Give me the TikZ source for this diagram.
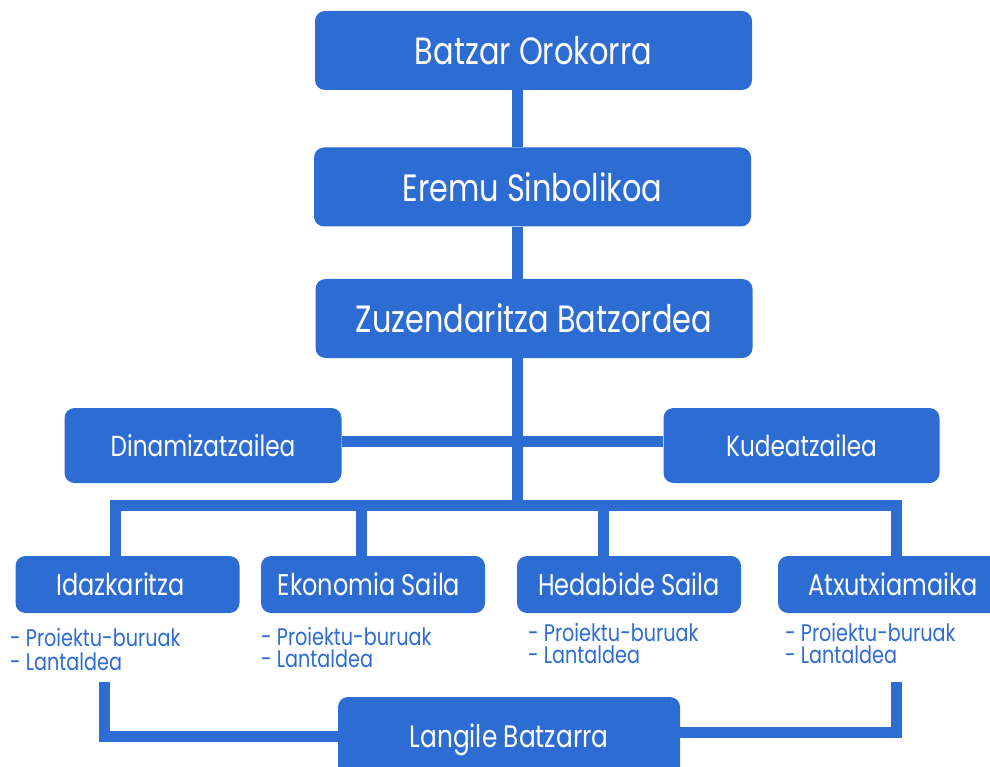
\documentclass[tikz,border=0pt]{standalone}
\usepackage{fontspec}
\setmainfont{Poppins}[FakeStretch=0.8]
\definecolor{orgblue}{RGB}{45,108,211}
\pgfdeclarelayer{bg}
\pgfsetlayers{bg,main}
\begin{document}
\begin{tikzpicture}[x=1pt,y=-1pt,
  box/.style={fill=orgblue,rounded corners=10pt,text=white,inner sep=0pt},
  bigbox/.style={box,minimum width=437pt,minimum height=79pt,font=\fontsize{38}{42}\selectfont},
  midbox/.style={box,minimum width=277pt,minimum height=75pt,font=\fontsize{29}{32}\selectfont},
  dept/.style={box,minimum width=224pt,minimum height=57pt,font=\fontsize{30}{32}\selectfont},
  sub/.style={anchor=base west,inner sep=0pt,text=orgblue,font=\fontsize{24}{26}\selectfont},
  conn/.style={draw=orgblue,line width=11pt,line join=miter}]
\useasboundingbox (0,0) rectangle (990,767);
\clip (0,0) rectangle (990,767);
\node[bigbox] (b1) at (533.5,50.5) {Batzar Orokorra};
\node[bigbox] (b2) at (532.5,187) {Eremu Sinbolikoa};
\node[bigbox] (b3) at (534,318.5) {Zuzendaritza Batzordea};
\node[midbox] (dina) at (203,445.5) {Dinamizatzailea};
\node[midbox,minimum width=276pt] (kude) at (801.5,445.5) {Kudeatzailea};
\node[dept] (idaz) at (127.5,584.5) {\hspace*{-14pt}Idazkaritza};
\node[dept] (ekon) at (373,584.5) {\hspace*{-8pt}Ekonomia Saila};
\node[dept] (heda) at (629,584.5) {Hedabide Saila};
\node[dept] (atxu) at (890,584.5) {\hspace*{6pt}Atxutxiamaika};
\node[box,minimum width=342pt,minimum height=86pt,font=\fontsize{31}{34}\selectfont] (lang) at (509,740) {Langile Batzarra};
\coordinate (vx) at (517.5,0);
\coordinate (bus) at (0,505.5);
\coordinate (lt) at (104.5,682);
\coordinate (rt) at (896,682);
\begin{pgfonlayer}{bg}
\path[conn] (vx |- b1.south) -- (vx |- b2.north);
\path[conn] (vx |- b2.south) -- (vx |- b3.north);
\path[conn] (vx |- b3.south) -- (vx |- bus);
\path[conn] (dina.east |- 0,441) -- (kude.west |- 0,441);
\path[conn] (115.5,0 |- idaz.north) -- (115.5,0 |- bus) -- (896,0 |- bus) -- (896,0 |- atxu.north);
\path[conn] (361,0 |- bus) -- (361,0 |- ekon.north);
\path[conn] (603.5,0 |- bus) -- (603.5,0 |- heda.north);
\path[conn] (lt) -- (lt |- 0,736.5) -- (lang.west |- 0,736.5);
\path[conn] (rt) -- (rt |- 0,732.5) -- (lang.east |- 0,732.5);
\end{pgfonlayer}
\node[sub] (i1) at (10,646) {- Proiektu-buruak};
\node[sub] (i2) at (10,670) {- Lantaldea};
\node[sub] (e1) at (261,645) {- Proiektu-buruak};
\node[sub] (e2) at (261,667) {- Lantaldea};
\node[sub] (h1) at (528,641) {- Proiektu-buruak};
\node[sub] (h2) at (528,663) {- Lantaldea};
\node[sub] (a1) at (785,641) {- Proiektu-buruak};
\node[sub] (a2) at (785,663) {- Lantaldea};
\end{tikzpicture}
\end{document}
